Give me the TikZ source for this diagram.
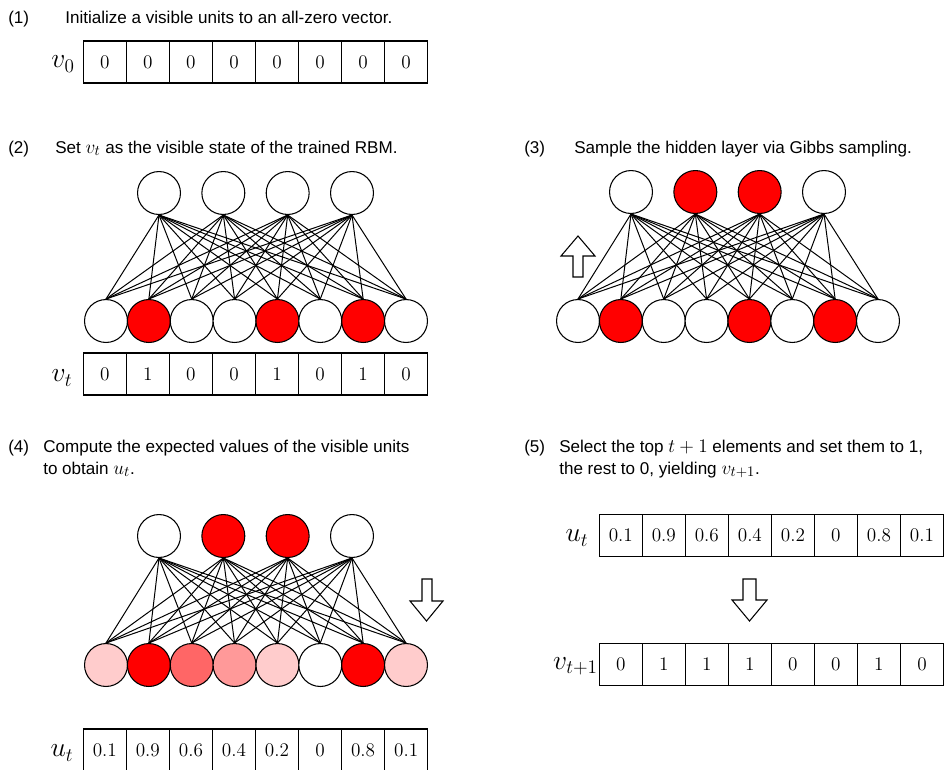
\documentclass[tikz,border=0pt]{standalone}
\usepackage[no-math]{fontspec}
\setmainfont{Liberation Sans}
\definecolor{rd}{RGB}{255,0,0}
\definecolor{pk}{RGB}{255,204,204}
\definecolor{pm}{RGB}{255,153,153}
\definecolor{ps}{RGB}{255,102,102}
\newcommand\txm[1]{{\fontsize{15.5}{15}\selectfont$#1$}}
\begin{document}
\begin{tikzpicture}[x=0.75pt,y=-0.75pt,
  unit/.style={circle,draw,line width=0.8pt,minimum size=32.2pt,inner sep=0pt},
  cell/.style={draw,line width=0.8pt,minimum width=32.3pt,minimum height=31.5pt,inner sep=0pt,font=\fontsize{15}{17}\selectfont},
  wire/.style={line width=0.75pt},
  txt/.style={anchor=base west,inner sep=0pt,font=\fontsize{12.8}{15}\selectfont},
  lbl/.style={inner sep=0pt,font=\fontsize{20}{22}\selectfont},
  blockarrow/.style={draw,line width=0.8pt,fill=white,line join=miter}]
\clip (0,0) rectangle (944,769);
\fill[white] (0,0) rectangle (944,769);

% ---------- (1)
\node[txt] (n1) at (8,23) {(1)};
\node[txt] (t1) at (65,23) {Initialize a visible units to an all-zero vector.};
\node[lbl] (l1) at (63,64) {$v_0$};
\foreach \v [count=\k] in {0,0,0,0,0,0,0,0}
  \node[cell] (a\k) at ({104.8+43.05*(\k-1)},62) {$\v$};

% ---------- (2)
\node[txt] (n2) at (8,153) {(2)};
\node[txt] (t2) at (55,153) {Set \txm{v_t} as the visible state of the trained RBM.};
\foreach \c [count=\j] in {white,rd,white,white,rd,white,rd,white}
  \node[unit,fill=\c] (pb\j) at ({106+300/7*(\j-1)},321) {};
\foreach \c [count=\i] in {white,white,white,white}
  \node[unit,fill=\c] (pa\i) at ({159+193/3*(\i-1)},193) {};
\foreach \i in {1,...,4}
  \foreach \j in {1,...,8}
    \draw[wire] (pa\i.south) -- (pb\j.north);
\node[lbl] (l2) at (62,378) {$v_t$};
\foreach \v [count=\k] in {0,1,0,0,1,0,1,0}
  \node[cell] (b\k) at ({104.8+43.05*(\k-1)},374) {$\v$};

% ---------- (3)
\node[txt] (n3) at (524,153) {(3)};
\node[txt] (t3) at (574,153) {Sample the hidden layer via Gibbs sampling.};
\foreach \c [count=\j] in {white,rd,white,white,rd,white,rd,white}
  \node[unit,fill=\c] (qb\j) at ({578+300/7*(\j-1)},321) {};
\foreach \c [count=\i] in {white,rd,rd,white}
  \node[unit,fill=\c] (qa\i) at ({631+193/3*(\i-1)},192) {};
\foreach \i in {1,...,4}
  \foreach \j in {1,...,8}
    \draw[wire] (qa\i.south) -- (qb\j.north);
\draw[blockarrow] (573,277) -- (573,256) -- (561,256) -- (578,236) -- (595,256) -- (583,256) -- (583,277) -- cycle;

% ---------- (4)
\node[txt] (n4) at (8,452) {(4)};
\node[txt] (t4a) at (43,452) {Compute the expected values of the visible units};
\node[txt] (t4b) at (43,474) {to obtain \txm{u_t}.};
\foreach \c [count=\j] in {pk,rd,ps,pm,pk,white,rd,pk}
  \node[unit,fill=\c] (rb\j) at ({106+300/7*(\j-1)},665) {};
\foreach \c [count=\i] in {white,rd,rd,white}
  \node[unit,fill=\c] (ra\i) at ({159+193/3*(\i-1)},536) {};
\foreach \i in {1,...,4}
  \foreach \j in {1,...,8}
    \draw[wire] (ra\i.south) -- (rb\j.north);
\draw[blockarrow] (422,579) -- (422,601) -- (410,601) -- (426.5,621) -- (443,601) -- (432,601) -- (432,579) -- cycle;
\node[lbl] (l4) at (62,753) {$u_t$};
\foreach \v [count=\k] in {0.1,0.9,0.6,0.4,0.2,0,0.8,0.1}
  \node[cell] (c\k) at ({104.8+43.05*(\k-1)},750) {$\v$};

% ---------- (5)
\node[txt] (n5) at (524,452) {(5)};
\node[txt] (t5a) at (559,452) {Select the top \txm{t+1} elements and set them to 1,};
\node[txt] (t5b) at (559,474) {the rest to 0, yielding \txm{v_{t+1}}.};
\node[lbl] (l5) at (577,538) {$u_t$};
\foreach \v [count=\k] in {0.1,0.9,0.6,0.4,0.2,0,0.8,0.1}
  \node[cell] (d\k) at ({620.8+43.02*(\k-1)},535.5) {$\v$};
\draw[blockarrow] (743,579) -- (743,600) -- (732,600) -- (749.5,621) -- (767,600) -- (756,600) -- (756,579) -- cycle;
\node[lbl,anchor=east] (l6) at (598,666) {$v_{t+1}$};
\foreach \v [count=\k] in {0,1,1,1,0,0,1,0}
  \node[cell] (e\k) at ({620.8+43.02*(\k-1)},664.5) {$\v$};
\end{tikzpicture}
\end{document}
